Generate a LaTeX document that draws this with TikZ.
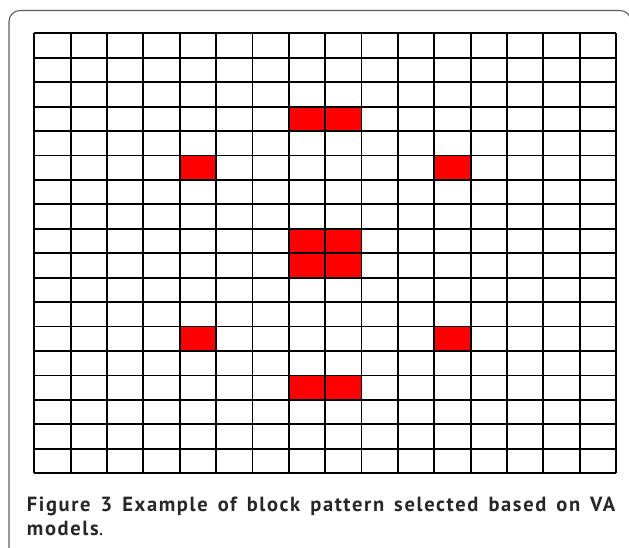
\documentclass[tikz,border=0pt]{standalone}
\usepackage{fontspec}
\setmainfont{PT Sans}
\definecolor{captxt}{RGB}{40,38,40}
\definecolor{framec}{RGB}{95,95,95}
\definecolor{cellred}{RGB}{255,0,0}
\begin{document}
\begin{tikzpicture}[x=1pt,y=-1pt,
  gridline/.style={line width=1.8pt,black},
  framebox/.style={draw=framec,line width=1.1pt,rounded corners=11pt},
  redcell/.style={fill=cellred},
  captext/.style={inner sep=0pt,anchor=base west,text=captxt,font=\fontsize{20.5}{24}\selectfont\addfontfeature{LetterSpace=8}}]
\useasboundingbox (0,0) rectangle (629,547);
\clip (0,0) rectangle (629,547);
\fill[white] (0,0) rectangle (629,547);
% frame
\draw[framebox] (9,570) -- (9,10.5) -- (631,10.5) -- (631,570);
% grid geometry
\def\gx{34.3}\def\gy{33.3}\def\cw{36.36}\def\ch{24.44}
% red cells (col,row)
\foreach \c/\r in {7/3,8/3,4/5,11/5,7/8,8/8,7/9,8/9,4/12,11/12,7/14,8/14}{
  \fill[redcell] (\gx+\c*\cw,\gy+\r*\ch) rectangle ++(\cw,\ch);
}
% grid lines
\foreach \i in {0,...,16}{
  \draw[gridline] (\gx+\i*\cw,\gy) -- (\gx+\i*\cw,\gy+18*\ch);
}
\foreach \j in {0,...,18}{
  \draw[gridline] (\gx,\gy+\j*\ch) -- (\gx+16*\cw,\gy+\j*\ch);
}
% caption
\node[captext] (cap1) at (26.7,511.7) {\makebox[588.3pt][s]{\bfseries Figure 3 Example of block pattern selected based on VA}};
\node[captext] (cap2) at (26.7,535) {\textbf{models}.};
\end{tikzpicture}
\end{document}
